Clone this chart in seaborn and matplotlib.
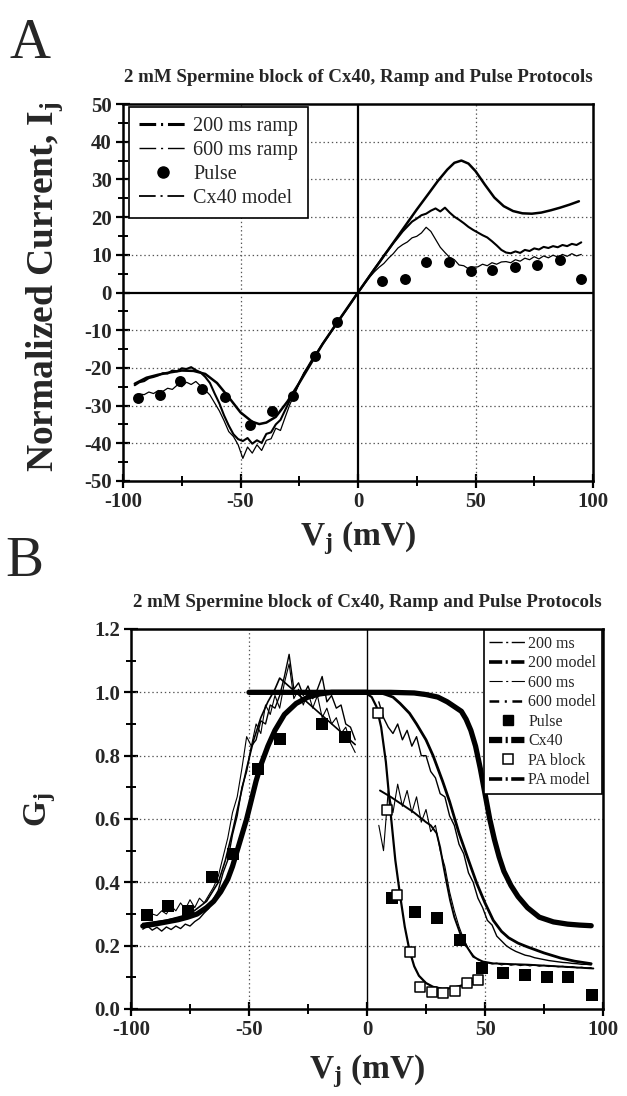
import numpy as np
import matplotlib
matplotlib.use("Agg")
import matplotlib.pyplot as plt
from matplotlib.lines import Line2D
from matplotlib.ticker import MultipleLocator, FormatStrFormatter
import seaborn as sns

# ---------------- Panel A data ----------------
RAMP_A_V = list(range(-95, 96, 2))
RAMP200_A_I = [-24.6, -23.8, -23.5, -22.7, -22.4, -22.0, -21.4, -21.5, -20.7, -20.9,
               -20.1, -20.3, -19.8, -20.6, -21.2, -22.4, -24.0, -26.8, -29.4, -32.6,
               -35.3, -37.6, -38.9, -39.4, -38.6, -40.1, -39.2, -39.9, -37.5, -37.1,
               -35.0, -33.8, -31.2, -28.6, -26.5, -23.9, -21.5, -19.4, -17.3, -15.5,
               -13.6, -11.8, -10.0, -8.2, -6.4, -4.6, -2.8, -0.9,
               0.9, 2.7, 4.5, 6.3, 8.0, 9.8, 11.4, 13.1, 14.6, 16.2,
               17.5, 18.8, 19.6, 20.5, 20.9, 21.7, 22.3, 21.5, 22.5, 21.2,
               20.1, 19.3, 18.4, 17.4, 16.6, 15.9, 15.2, 14.6, 13.6, 12.5,
               11.3, 10.6, 10.4, 10.9, 10.5, 11.3, 11.0, 11.7, 11.4, 12.1,
               11.8, 12.3, 12.0, 12.6, 12.3, 12.9, 12.6, 13.3]
RAMP600_A_I = [-27.6, -26.9, -27.1, -26.4, -26.8, -26.0, -26.2, -25.4, -25.7, -24.6,
               -25.0, -23.8, -24.4, -23.6, -24.8, -25.9, -27.2, -29.3, -31.4, -34.0,
               -36.9, -38.2, -40.4, -44.0, -41.0, -42.6, -40.4, -41.9, -39.2, -38.8,
               -36.0, -36.6, -33.1, -29.7, -27.0, -24.1, -21.3, -19.5, -17.3, -15.6,
               -13.5, -11.9, -9.9, -8.3, -6.3, -4.6, -2.7, -0.9,
               0.8, 2.5, 4.1, 5.5, 6.7, 7.7, 9.1, 10.3, 11.8, 12.7,
               13.4, 14.5, 14.9, 15.8, 17.3, 16.2, 14.1, 12.0, 10.6, 9.3,
               8.7, 7.3, 7.1, 6.3, 6.7, 6.8, 7.5, 7.1, 7.9, 7.5,
               8.1, 8.2, 7.9, 8.7, 8.3, 9.1, 8.7, 9.5, 8.9, 9.7,
               9.2, 9.9, 9.4, 10.1, 9.6, 10.3, 9.7, 10.1]
CX40_A_V = [-95, -90, -85, -80, -75, -70, -65, -60, -55, -50, -45, -42, -39, -35, -30,
            -25, -20, -15, -10, -5, 0, 5, 10, 15, 20, 25, 30, 34, 38, 41, 44, 47, 50,
            54, 58, 62, 66, 70, 74, 78, 82, 86, 90, 94]
CX40_A_I = [-24.2, -22.6, -21.8, -21.2, -20.7, -20.8, -21.6, -24.0, -27.8, -31.8,
            -34.3, -34.9, -34.5, -33.0, -28.9, -24.0, -18.8, -13.6, -9.0, -4.5, 0.0,
            4.4, 8.8, 13.2, 17.6, 22.0, 26.2, 29.6, 32.6, 34.4, 35.0, 34.2, 32.2,
            28.6, 25.2, 22.9, 21.6, 21.0, 20.9, 21.2, 21.8, 22.5, 23.3, 24.2]
PULSE_A_V = [-93.5, -84.3, -75.7, -66.5, -56.6, -46, -36.7, -27.5, -18.3, -9.1,
             10, 20, 29, 38.6, 48, 57, 67, 76, 86, 95]
PULSE_A_I = [-28.0, -27.1, -23.6, -25.5, -27.8, -35.1, -31.3, -27.4, -16.8, -7.7,
             3.0, 3.7, 8.0, 8.0, 5.8, 6.0, 6.7, 7.2, 8.5, 3.7]
LEGEND_A = ["200 ms ramp", "600 ms ramp", "Pulse", "Cx40 model"]

# ---------------- Panel B data ----------------
RAMP_B_NEG_V = list(range(-95, -4, 2))
RAMP_B_POS_V = list(range(5, 96, 2))
RAMP200_B_NEG_G = [0.252, 0.262, 0.249, 0.258, 0.246, 0.259, 0.251, 0.262, 0.254, 0.268,
                   0.262, 0.276, 0.286, 0.303, 0.318, 0.348, 0.375, 0.43, 0.47, 0.55,
                   0.61, 0.70, 0.75, 0.83, 0.85, 0.91, 0.90, 0.96, 0.95, 0.99,
                   1.05, 1.12, 1.01, 1.03, 0.99, 1.02, 0.98, 1.01, 1.05, 0.97,
                   0.99, 0.95, 0.96, 0.90, 0.89, 0.85]
RAMP600_B_NEG_G = [0.285, 0.29, 0.30, 0.295, 0.31, 0.30, 0.325, 0.31, 0.335, 0.315,
                   0.345, 0.32, 0.35, 0.335, 0.36, 0.385, 0.42, 0.48, 0.54, 0.62,
                   0.67, 0.76, 0.86, 0.83, 0.90, 0.87, 0.96, 0.93, 0.99, 0.95,
                   1.03, 1.09, 0.98, 1.01, 0.96, 1.0, 0.95, 0.99, 0.92, 0.95,
                   0.90, 0.92, 0.87, 0.89, 0.84, 0.81]
RAMP200_B_POS_G = [0.97, 0.92, 0.89, 0.87, 0.90, 0.85, 0.88, 0.83, 0.86, 0.80,
                   0.80, 0.75, 0.73, 0.68, 0.67, 0.61, 0.58, 0.52, 0.49, 0.43,
                   0.40, 0.35, 0.32, 0.28, 0.265, 0.23, 0.215, 0.20, 0.19, 0.182,
                   0.176, 0.17, 0.167, 0.162, 0.159, 0.156, 0.153, 0.151, 0.149, 0.147,
                   0.146, 0.144, 0.143, 0.141, 0.141, 0.139]
RAMP600_B_POS_G = [0.58, 0.50, 0.69, 0.62, 0.71, 0.64, 0.69, 0.62, 0.67, 0.59,
                   0.63, 0.56, 0.58, 0.50, 0.45, 0.37, 0.31, 0.26, 0.22, 0.19,
                   0.17, 0.155, 0.15, 0.146, 0.142, 0.145, 0.139, 0.143, 0.138, 0.141,
                   0.137, 0.140, 0.136, 0.139, 0.135, 0.138, 0.134, 0.136, 0.133, 0.135,
                   0.131, 0.134, 0.130, 0.132, 0.129, 0.131]
CX40_B_NEG_V = [-95, -90, -85, -80, -76, -72, -68, -65, -62, -59, -57, -55, -53, -51,
                -49, -47, -45, -42, -39, -35, -30, -25, -20, -15, -10, 0]
CX40_B_NEG_G = [0.262, 0.268, 0.275, 0.282, 0.29, 0.30, 0.32, 0.34, 0.37, 0.41, 0.45,
                0.50, 0.55, 0.60, 0.66, 0.72, 0.77, 0.83, 0.88, 0.93, 0.965, 0.985,
                0.995, 1.0, 1.0, 1.0]
CX40_B_POS_V = [-50, -25, 0, 10, 20, 25, 30, 34, 37, 40, 42, 44, 46, 48, 50, 52, 54,
                56, 58, 61, 64, 68, 73, 79, 85, 90, 95]
CX40_B_POS_G = [1.0, 1.0, 1.0, 1.0, 0.998, 0.993, 0.985, 0.97, 0.955, 0.94, 0.915,
                0.88, 0.83, 0.76, 0.68, 0.60, 0.535, 0.48, 0.435, 0.39, 0.355, 0.32,
                0.29, 0.275, 0.268, 0.265, 0.263]
MODEL200_B_V = [5, 8, 11, 14, 18, 21, 25, 28, 32, 35, 39, 43, 46.5, 50, 53.5, 57, 60,
                64, 68, 75, 82, 88, 95]
MODEL200_B_G = [1.0, 0.993, 0.985, 0.965, 0.934, 0.90, 0.85, 0.80, 0.72, 0.655, 0.555,
                0.47, 0.397, 0.335, 0.28, 0.245, 0.225, 0.208, 0.196, 0.177, 0.161,
                0.151, 0.143]
MODEL600_B_NEG_V = [-95, -85, -75, -68, -63, -60, -57, -54, -51, -48, -45, -42, -39,
                    -37, -5]
MODEL600_B_NEG_G = [0.27, 0.28, 0.30, 0.34, 0.40, 0.47, 0.56, 0.66, 0.76, 0.85, 0.92,
                    0.97, 1.01, 1.045, 0.835]
MODEL600_B_POS_V = [5.5, 10, 15, 20, 25, 27, 29.5, 31, 32.3, 33.7, 35.2, 37, 39.4, 42,
                    45, 49, 53.5, 60, 68, 80, 95.9]
MODEL600_B_POS_G = [0.69, 0.67, 0.645, 0.62, 0.59, 0.58, 0.555, 0.51, 0.455, 0.40,
                    0.344, 0.29, 0.24, 0.20, 0.165, 0.15, 0.144, 0.142, 0.14, 0.135,
                    0.128]
PA_MODEL_B_V = [-2, 0, 2, 4, 6, 8, 10, 12, 14, 16, 18, 20, 22, 25, 28, 32, 36, 40, 44, 47]
PA_MODEL_B_G = [1.0, 0.995, 0.985, 0.955, 0.89, 0.78, 0.62, 0.47, 0.36, 0.26, 0.185,
                0.135, 0.105, 0.082, 0.07, 0.064, 0.066, 0.074, 0.084, 0.092]
PULSE_B_V = [-93.3, -84.2, -75.7, -65.8, -56.6, -46.3, -36.9, -18.9, -9.3, 10.5, 20.3,
             29.5, 39.4, 48.6, 57.8, 67, 76.1, 85.3, 95.2]
PULSE_B_G = [0.297, 0.325, 0.31, 0.416, 0.49, 0.758, 0.853, 0.90, 0.86, 0.35, 0.307,
             0.286, 0.218, 0.128, 0.113, 0.107, 0.102, 0.10, 0.044]
PA_BLOCK_B_V = [4.8, 8.3, 12.6, 18.2, 22.5, 27.4, 32.3, 37.3, 42.2, 47.2]
PA_BLOCK_B_G = [0.934, 0.628, 0.36, 0.181, 0.07, 0.055, 0.05, 0.058, 0.081, 0.092]
LEGEND_B = ["200 ms", "200 model", "600 ms", "600 model", "Pulse", "Cx40",
            "PA block", "PA model"]

TITLE = "2 mM Spermine block of Cx40, Ramp and Pulse Protocols"

# ---------------- style ----------------
sns.set_style("ticks")
plt.rcParams["font.family"] = ["Liberation Serif", "DejaVu Serif"]
plt.rcParams["font.weight"] = "bold"
plt.rcParams["axes.unicode_minus"] = False
plt.rcParams["lines.scale_dashes"] = False
plt.rcParams["mathtext.fontset"] = "custom"
plt.rcParams["mathtext.rm"] = "Liberation Serif:bold"
plt.rcParams["mathtext.it"] = "Liberation Serif:italic:bold"
plt.rcParams["mathtext.bf"] = "Liberation Serif:bold"

W, H = 627, 1096
fig = plt.figure(figsize=(W / 100, H / 100), dpi=100)
fig.patch.set_facecolor("white")

axA = fig.add_axes([123 / W, 1 - 481 / H, 470 / W, 377 / H])
axB = fig.add_axes([131 / W, 1 - 1009 / H, 472 / W, 380 / H])

K = "black"
DOT = (0, (1, 2))


def line(ax, x, y, lw, z=3):
    sns.lineplot(x=x, y=y, ax=ax, color=K, linewidth=lw, sort=False,
                 estimator=None, legend=False, zorder=z)


def style_axis(ax):
    for s in ax.spines.values():
        s.set_linewidth(1.8)
        s.set_color(K)
    ax.tick_params(which="major", direction="inout", length=10, width=1.6,
                   labelsize=15, color=K, pad=3)
    ax.tick_params(which="minor", direction="inout", length=7, width=1.4, color=K)
    ax.set_xlabel("")
    ax.set_ylabel("")
    ax.set_facecolor("white")


# ---------------- Panel A ----------------
for yv in [-40, -30, -20, -10, 10, 20, 30, 40]:
    axA.axhline(yv, color="#555555", lw=0.9, ls=DOT, zorder=1)
for xv in [-50, 50]:
    axA.axvline(xv, color="#555555", lw=0.9, ls=DOT, zorder=1)
axA.axhline(0, color=K, lw=1.6, zorder=2)
axA.axvline(0, color=K, lw=1.6, zorder=2)

line(axA, RAMP_A_V, RAMP600_A_I, 0.9)
line(axA, RAMP_A_V, RAMP200_A_I, 1.5)
line(axA, CX40_A_V, CX40_A_I, 1.8)
sns.scatterplot(x=PULSE_A_V, y=PULSE_A_I, ax=axA, marker="o", s=62, color=K,
                edgecolor=K, linewidth=0, legend=False, zorder=5)

axA.set_xlim(-100, 100)
axA.set_ylim(-50, 50)
axA.xaxis.set_major_locator(MultipleLocator(50))
axA.xaxis.set_minor_locator(MultipleLocator(25))
axA.yaxis.set_major_locator(MultipleLocator(10))
axA.yaxis.set_minor_locator(MultipleLocator(5))
style_axis(axA)
axA.set_title(TITLE, fontsize=13.6, fontweight="bold", pad=16)

DA = (12, 3.5, 1.5, 3.5)
hA = [Line2D([], [], color=K, lw=2.2, dashes=DA),
      Line2D([], [], color=K, lw=1.0, dashes=DA),
      Line2D([], [], color=K, marker="o", ls="none", markersize=8),
      Line2D([], [], color=K, lw=1.3, dashes=DA)]
legA = axA.legend(hA, LEGEND_A, loc="upper left", bbox_to_anchor=(6 / 470, 1 - 3 / 377),
                  borderaxespad=0, frameon=True, fancybox=False, edgecolor=K,
                  framealpha=1, prop={"family": "Liberation Serif", "weight": "normal",
                                      "size": 14.5},
                  handlelength=2.4, handletextpad=0.3, labelspacing=0.24,
                  borderpad=0.5)
legA.get_frame().set_linewidth(1.2)

# ---------------- Panel B ----------------
for yv in [0.2, 0.4, 0.6, 0.8, 1.0]:
    axB.axhline(yv, color="#555555", lw=0.9, ls=DOT, zorder=1)
for xv in [-50, 50]:
    axB.axvline(xv, color="#555555", lw=0.9, ls=DOT, zorder=1)
axB.axvline(0, color=K, lw=1.0, zorder=2)

line(axB, RAMP_B_NEG_V, RAMP600_B_NEG_G, 0.8)
line(axB, RAMP_B_POS_V, RAMP600_B_POS_G, 0.8)
line(axB, RAMP_B_NEG_V, RAMP200_B_NEG_G, 1.0)
line(axB, RAMP_B_POS_V, RAMP200_B_POS_G, 1.0)
line(axB, MODEL600_B_NEG_V, MODEL600_B_NEG_G, 1.2)
line(axB, MODEL600_B_POS_V, MODEL600_B_POS_G, 1.4)
line(axB, MODEL200_B_V, MODEL200_B_G, 2.0)
line(axB, PA_MODEL_B_V, PA_MODEL_B_G, 1.6)
line(axB, CX40_B_NEG_V, CX40_B_NEG_G, 3.8, z=4)
line(axB, CX40_B_POS_V, CX40_B_POS_G, 3.8, z=4)
sns.scatterplot(x=PULSE_B_V, y=PULSE_B_G, ax=axB, marker="s", s=64, color=K,
                edgecolor=K, linewidth=0, legend=False, zorder=5)
sns.scatterplot(x=PA_BLOCK_B_V, y=PA_BLOCK_B_G, ax=axB, marker="s", s=60,
                facecolor="white", edgecolor=K, linewidth=1.1, legend=False, zorder=6)

axB.set_xlim(-100, 100)
axB.set_ylim(0, 1.2)
axB.xaxis.set_major_locator(MultipleLocator(50))
axB.xaxis.set_minor_locator(MultipleLocator(25))
axB.yaxis.set_major_locator(MultipleLocator(0.2))
axB.yaxis.set_minor_locator(MultipleLocator(0.1))
axB.yaxis.set_major_formatter(FormatStrFormatter("%.1f"))
style_axis(axB)
axB.set_title(TITLE, fontsize=13.6, fontweight="bold", pad=16)

DB = (9.5, 2.5, 1.5, 2.5)
hB = [Line2D([], [], color=K, lw=1.0, dashes=DB),
      Line2D([], [], color=K, lw=2.6, dashes=DB),
      Line2D([], [], color=K, lw=0.8, dashes=DB),
      Line2D([], [], color=K, lw=1.8, dashes=(7, 4, 1.5, 4)),
      Line2D([], [], color=K, marker="s", ls="none", markersize=7),
      Line2D([], [], color=K, lw=4.5, dashes=DB),
      Line2D([], [], color=K, marker="s", ls="none", markersize=7,
             markerfacecolor="white", markeredgewidth=1.1),
      Line2D([], [], color=K, lw=2.6, dashes=DB)]
legB = axB.legend(hB, LEGEND_B, loc="upper right", bbox_to_anchor=(1 - 1 / 472, 1 - 1 / 380),
                  borderaxespad=0, frameon=True, fancybox=False, edgecolor=K,
                  framealpha=1, prop={"family": "Liberation Serif", "weight": "normal",
                                      "size": 11.5},
                  handlelength=2.3, handletextpad=0.15, labelspacing=0.22,
                  borderpad=0.35)
legB.get_frame().set_linewidth(1.2)

# ---------------- labels ----------------
fig.text(10 / W, 1 - 58 / H, "A", fontsize=41, fontweight="normal", ha="left",
         va="baseline")
fig.text(5 / W, 1 - 576 / H, "B", fontsize=41, fontweight="normal", ha="left",
         va="baseline")
fig.text(45 / W, 1 - 287 / H, "Normalized Current, I$_\\mathrm{j}$", rotation=90,
         ha="center", va="center", fontsize=27, fontweight="bold")
fig.text(358 / W, 1 - 545 / H, "V$_\\mathrm{j}$ (mV)", ha="center", va="baseline",
         fontsize=24, fontweight="bold")
fig.text(40 / W, 1 - 810 / H, "G$_\\mathrm{j}$", rotation=90, ha="center",
         va="center", fontsize=24, fontweight="bold")
fig.text(367 / W, 1 - 1078 / H, "V$_\\mathrm{j}$ (mV)", ha="center", va="baseline",
         fontsize=24, fontweight="bold")

fig.savefig("out.png", dpi=100, facecolor="white")
